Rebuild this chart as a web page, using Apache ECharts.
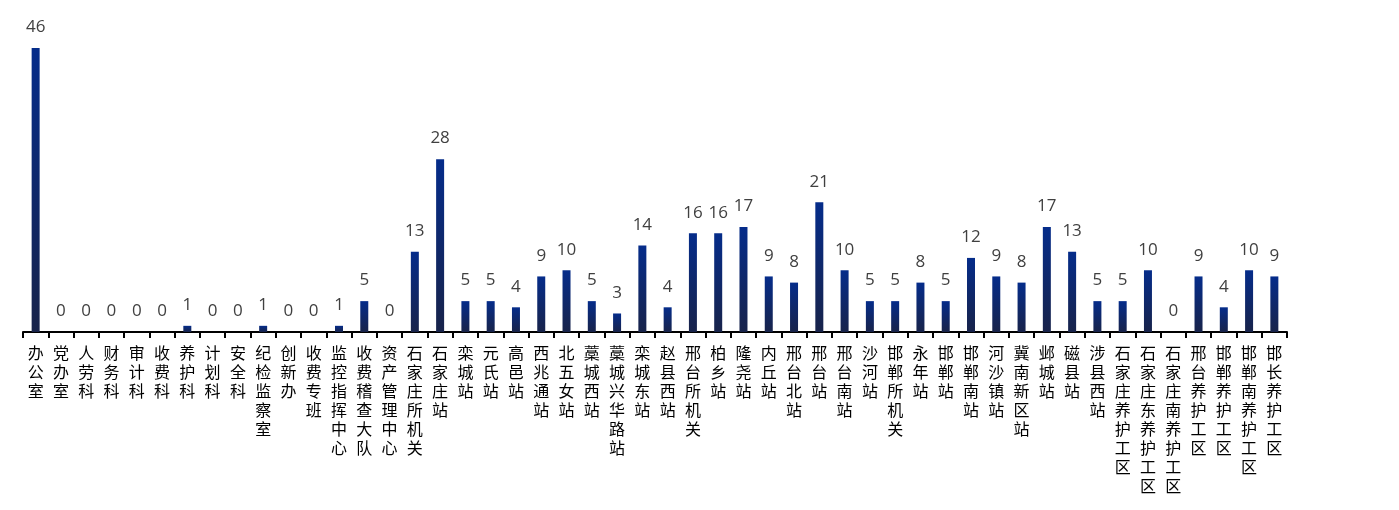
<!DOCTYPE html>
<html>
<head>
<meta charset="utf-8">
<script src="https://cdn.jsdelivr.net/npm/echarts@6/dist/echarts.min.js"></script>
<style>
html,body{margin:0;padding:0;background:#fff;}
#chart{width:1399px;height:510px;}
</style>
</head>
<body>
<div id="chart"></div>
<script>
const categories = ['办公室','党办室','人劳科','财务科','审计科','收费科','养护科','计划科','安全科','纪检监察室','创新办','收费专班','监控指挥中心','收费稽查大队','资产管理中心','石家庄所机关','石家庄站','栾城站','元氏站','高邑站','西兆通站','北五女站','藁城西站','藁城兴华路站','栾城东站','赵县西站','邢台所机关','柏乡站','隆尧站','内丘站','邢台北站','邢台站','邢台南站','沙河站','邯郸所机关','永年站','邯郸站','邯郸南站','河沙镇站','冀南新区站','邺城站','磁县站','涉县西站','石家庄养护工区','石家庄东养护工区','石家庄南养护工区','邢台养护工区','邯郸养护工区','邯郸南养护工区','邯长养护工区'];
const values = [46,0,0,0,0,0,1,0,0,1,0,0,1,5,0,13,28,5,5,4,9,10,5,3,14,4,16,16,17,9,8,21,10,5,5,8,5,12,9,8,17,13,5,5,10,0,9,4,10,9];

const chart = echarts.init(document.getElementById('chart'));
chart.setOption({
  animation: false,
  grid: { left: 23, right: 112, top: 48, bottom: 178, containLabel: false },
  xAxis: {
    type: 'category',
    data: categories,
    boundaryGap: true,
    axisLine: { show: true, lineStyle: { color: '#000', width: 2 } },
    axisTick: { show: true, alignWithLabel: false, length: 6, lineStyle: { color: '#000', width: 2 } },
    axisLabel: {
      interval: 0,
      margin: 11,
      color: '#000',
      fontSize: 16,
      lineHeight: 19,
      fontFamily: '"Noto Sans CJK SC", sans-serif',
      verticalAlign: 'top',
      formatter: v => v.split('').join('\n')
    }
  },
  yAxis: { type: 'value', min: 0, max: 46, show: false, splitLine: { show: false } },
  series: [{
    type: 'bar',
    data: values,
    barWidth: 8,
    itemStyle: {
      color: new echarts.graphic.LinearGradient(0, 0, 0, 1, [
        { offset: 0, color: '#052c8a' },
        { offset: 1, color: '#18234a' }
      ])
    },
    label: {
      show: true,
      position: 'top',
      distance: 12,
      color: '#404040',
      fontSize: 17,
      fontFamily: '"Open Sans", sans-serif'
    }
  }]
});
</script>
</body>
</html>
